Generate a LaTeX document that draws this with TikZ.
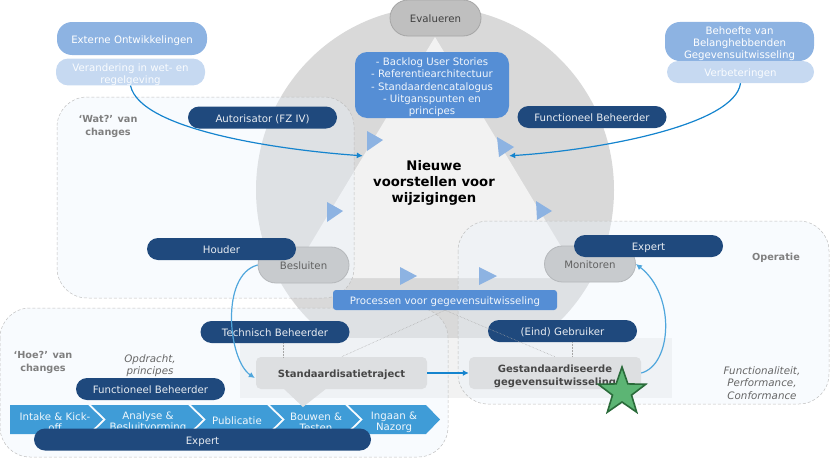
\documentclass[tikz,border=0pt]{standalone}
\usepackage{fontspec}
\setmainfont{DejaVu Sans}
\usetikzlibrary{shapes.geometric,arrows.meta,calc}
\definecolor{navy}{HTML}{1F497D}
\definecolor{midblue}{HTML}{558ED5}
\definecolor{softblue}{HTML}{8DB3E2}
\definecolor{paleblue}{HTML}{C6D9F1}
\definecolor{chevblue}{HTML}{3F9CD7}
\definecolor{arrowblue}{HTML}{1584CE}
\definecolor{lightarrow}{HTML}{4FA6DC}
\definecolor{overlay}{HTML}{E9F2FC}
\definecolor{circgray}{HTML}{D9D9D9}
\definecolor{trigray}{HTML}{F2F2F2}
\definecolor{greytxt}{HTML}{7F7F7F}
\definecolor{evafill}{HTML}{BFBFBF}
\definecolor{evaline}{HTML}{A6A6A6}
\definecolor{pillfill}{HTML}{C8CBCE}
\definecolor{pillline}{HTML}{B5B8BB}
\definecolor{rectfill}{HTML}{DDDFE1}
\definecolor{starfill}{HTML}{5CB574}
\definecolor{starline}{HTML}{2A6B3A}
\newcommand{\toppad}{\rule{0pt}{12.5pt}}
\tikzset{
  fs/.style={font=\fontsize{10.2}{12.2}\selectfont},
  box/.style={inner sep=0pt,align=center,fs},
  lowtext/.style={text height=9pt,text depth=0pt},
  navybar/.style={box,lowtext,fill=navy,text=white!90!navy,minimum width=149pt,minimum height=22pt,rounded corners=11pt},
  greypill/.style={box,lowtext,text=black!62,line width=.8pt,minimum width=91pt,minimum height=36pt,rounded corners=18pt},
  softpill/.style={box,fill=softblue,text=white,rounded corners=15pt},
  palepill/.style={box,fill=paleblue,text=white!92!paleblue,rounded corners=12pt},
  greyrect/.style={inner sep=0pt,align=center,fill=rectfill,text=black!72,rounded corners=5pt,font=\bfseries\fontsize{10}{12.2}\selectfont},
  zone/.style={draw=black!25,line width=.5pt,densely dashed,rounded corners=30pt},
  zonefill/.style={fill=overlay,fill opacity=.32,rounded corners=30pt},
  tri/.style={fill=softblue},
  chevtext/.style={inner sep=0pt,align=center,text=white!92!chevblue,font=\fontsize{10.2}{11.3}\selectfont},
  graylabel/.style={inner sep=0pt,align=center,text=greytxt,font=\bfseries\fontsize{9.7}{12.2}\selectfont},
  itlabel/.style={inner sep=0pt,align=center,text=black!60,font=\itshape\fontsize{10.3}{12.2}\selectfont},
  conn/.style={draw=arrowblue,line width=1.2pt,-{Latex[length=6pt,width=6pt]}},
  connlight/.style={draw=lightarrow,line width=1.2pt,-{Latex[length=6pt,width=6pt]}},
  dots/.style={draw=black!35,line width=.5pt,densely dotted},
}
\begin{document}
\begin{tikzpicture}[x=1pt,y=-1pt]
\useasboundingbox (0,0) rectangle (830,458);
% background
\begin{scope}
  \clip (0,0) rectangle (830,338);
  \fill[circgray] (435,190) ellipse [x radius=179,y radius=183];
\end{scope}
\fill[trigray] (240,338) rectangle (672,398);
\fill[trigray] (435,37) -- (580,278) -- (290,278) -- cycle;
% zones
\fill[zonefill] (57,97) rectangle (354,298);
\fill[zonefill] (0,308) rectangle (448,457);
\fill[zonefill] (458,221) rectangle (829,404);
\draw[zone] (57,97) rectangle (354,298);
\draw[zone] (0,308) rectangle (448,457);
\draw[zone] (458,221) rectangle (829,404);
% small triangles
\fill[tri] (367,131) -- (383,140) -- (367,151) -- cycle;
\fill[tri] (327,202) -- (343,211) -- (327,222) -- cycle;
\fill[tri] (497,137) -- (514,147) -- (499,157) -- cycle;
\fill[tri] (536,201) -- (552,211) -- (537,220) -- cycle;
\fill[tri] (400,267) -- (417,276) -- (400,285) -- cycle;
\fill[tri] (479,267) -- (497,276) -- (479,285) -- cycle;
% chevrons
\fill[chevblue] (10,405) -- (88,405) -- (103,419.5) -- (88,434) -- (10,434) -- cycle;
\fill[chevblue] (91,405) -- (188,405) -- (203,419.5) -- (188,434) -- (91,434) -- (106,419.5) -- cycle;
\fill[chevblue] (191,405) -- (267,405) -- (282,419.5) -- (267,434) -- (191,434) -- (206,419.5) -- cycle;
\fill[chevblue] (270,405) -- (345,405) -- (360,419.5) -- (345,434) -- (270,434) -- (285,419.5) -- cycle;
\fill[chevblue] (348,405) -- (426,405) -- (440,419.5) -- (426,434) -- (348,434) -- (363,419.5) -- cycle;
\node[chevtext] (c1) at (55,419.5) {\toppad Intake \& Kick-\\off};
\node[chevtext] (c2) at (148,419.5) {\toppad Analyse \&\\Besluitvorming};
\node[chevtext] (c3) at (237,420.5) {Publicatie};
\node[chevtext] (c4) at (316,419.5) {\toppad Bouwen \&\\Testen};
\node[chevtext] (c5) at (394,419.5) {\toppad Ingaan \&\\Nazorg};
% top pills
\node[softpill,lowtext,minimum width=150pt,minimum height=33pt] (ext) at (132,38.5) {Externe Ontwikkelingen};
\node[palepill,minimum width=149pt,minimum height=26pt] (ver) at (130.5,72) {\toppad Verandering in wet- en\\regelgeving};
\node[softpill,minimum width=149pt,minimum height=35pt] (beh) at (739.5,41.5) {\toppad Behoefte van\\Belanghebbenden\\Gegevensuitwisseling};
\node[palepill,lowtext,minimum width=147pt,minimum height=22pt,rounded corners=11pt] (verb) at (740.5,72) {Verbeteringen};
% centre
\node[greypill,fill=evafill,draw=evaline,text=black!75] (eva) at (435.5,18) {Evalueren};
\node[box,fill=midblue,text=white!92!midblue,rounded corners=12pt,minimum width=154pt,minimum height=66pt] (lst) at (432,85)
  {\toppad - Backlog User Stories\\- Referentiearchitectuur\\- Standaardencatalogus\\- Uitganspunten en\\principes};
\node[inner sep=0pt,align=center,minimum width=146pt,minimum height=50pt,font=\bfseries\fontsize{13.2}{16}\selectfont] (nw) at (434,181)
  {\rule{0pt}{14pt}Nieuwe\\voorstellen voor\\wijzigingen};
\node[greypill,fill=pillfill,draw=pillline] (bes) at (303.5,265) {Besluiten};
\node[greypill,fill=pillfill,draw=pillline] (mon) at (590,264) {Monitoren};
\node[box,lowtext,fill=midblue,text=white!92!midblue,rounded corners=3pt,minimum width=224pt,minimum height=20pt] (proc) at (445,300) {Processen voor gegevensuitwisseling};
% grey rects
\fill[rectfill] (283,388) -- (303,407) -- (327,388) -- cycle;
\node[greyrect,lowtext,minimum width=171pt,minimum height=32pt] (std) at (341.5,373) {Standaardisatietraject};
\node[greyrect,minimum width=172pt,minimum height=32pt] (gest) at (555,373) {\rule{0pt}{14pt}Gestandaardiseerde\\gegevensuitwisseling};
% navy bars
\node[navybar] (aut) at (262.5,117.5) {Autorisator (FZ IV)};
\node[navybar] (fb1) at (592,117) {Functioneel Beheerder};
\node[navybar] (hou) at (221.5,249) {Houder};
\node[navybar] (exp1) at (648.5,246) {Expert};
\node[navybar] (tech) at (275,332) {Technisch Beheerder};
\node[navybar] (eind) at (562.5,331) {(Eind) Gebruiker};
\node[navybar] (fb2) at (150.5,389) {Functioneel Beheerder};
\node[navybar,minimum width=337pt] (exp2) at (202.5,439.5) {Expert};
% labels
\node[graylabel] (wat) at (108,126.5) {‘Wat?’ van\\changes};
\node[graylabel] (hoe) at (43,362.5) {‘Hoe?’ van\\changes};
\node[graylabel] (ope) at (776,258) {Operatie};
\node[itlabel] (opd) at (150,366) {Opdracht,\\principes};
\node[itlabel] (fun) at (762,383) {Functionaliteit,\\Performance,\\Conformance};
% dotted
\draw[dots] (proc.south) -- (std.north);
\draw[dots] (proc.south) -- (gest.north);
\draw[dots] ([xshift=8pt]tech.south) -- ++(0,14);
\draw[dots] ([xshift=10pt]eind.south) -- ++(0,15);
% connectors
\draw[conn] (ver.south) .. controls (140,130) and (280,150) .. ([xshift=2pt]nw.north west);
\draw[conn] (verb.south) .. controls (735,125) and (600,150) .. ([xshift=2pt]nw.north east);
\draw[connlight] (bes.west) .. controls (220,275) and (228,360) .. ([xshift=-1pt,yshift=-5pt]std.west);
\draw[conn] (std.east) -- (gest.west);
\draw[connlight] (gest.east) .. controls (672,365) and (676,295) .. (mon.east);
\node[star,star points=5,star point ratio=2.5,minimum size=50pt,inner sep=0pt,fill=starfill,draw=starline,line width=1.6pt] (st) at (622,392) {};
\end{tikzpicture}
\end{document}
